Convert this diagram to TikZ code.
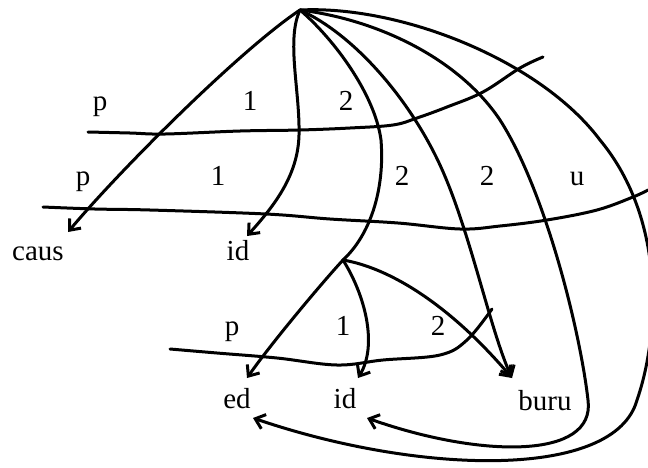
\documentclass[tikz,border=0pt]{standalone}
\usepackage{fontspec}
\setmainfont{Liberation Serif}
\usetikzlibrary{arrows.meta}

\begin{document}
\begin{tikzpicture}[x=1pt, y=-1pt, >={Straight Barb[length=9pt,width=15pt]},
  line width=3pt, line cap=round, line join=round,
  font=\fontsize{29}{31}\selectfont,
  lab/.style={anchor=base, inner sep=0pt}]
  \useasboundingbox (0,0) rectangle (648,467);

  % --- nodos ---
  \coordinate (root) at (300,10);
  \coordinate (split) at (343,260);

  \node[lab] (caus) at (38,260) {caus};
  \node[lab] (idA) at (238,260) {id};
  \node[lab] (ed) at (237,408) {ed};
  \node[lab] (idB) at (345,408) {id};
  \node[lab] (buru) at (545,410) {buru};

  % --- etiquetas de los estratos ---
  \foreach \t/\x [count=\i] in {p/100,1/250,2/346}
    \node[lab] (rA\i) at (\x,110) {\t};
  \foreach \t/\x [count=\i] in {p/83,1/218,2/402,2/487,u/577}
    \node[lab] (rB\i) at (\x,185) {\t};
  \foreach \t/\x [count=\i] in {p/232,1/343,2/438}
    \node[lab] (rC\i) at (\x,335) {\t};

  % --- lineas de estrato ---
  \draw plot[smooth, tension=0.6] coordinates {(88,132) (130,133) (165,134)
    (240,131) (300,130) (350,128) (393,125) (417,118) (447,107) (483,92)
    (520,68) (543,57)};
  \draw plot[smooth, tension=0.6] coordinates {(43,207) (95,209) (150,210)
    (266,214) (330,219) (398,223) (460,229) (500,226) (547,220) (597,210)
    (633,197) (648,190)};
  \draw plot[smooth, tension=0.6] coordinates {(170,349) (217,353) (277,358)
    (337,365) (383,360) (440,355) (467,340) (492,309)};

  % --- arcos desde la raiz ---
  \draw[->] (root) .. controls (240,50) and (120,170) .. ([shift={(30,-28)}]caus.base);
  \draw[->] (root) .. controls (286,40) and (300,90) .. (299,135)
    .. controls (298,175) and (275,205) .. ([shift={(9,-24)}]idA.base);
  \draw (root) .. controls (335,40) and (375,95) .. (381,140)
    .. controls (385,190) and (370,235) .. (split);
  \draw[->] (root) .. controls (355,35) and (410,100) .. (440,165)
    .. controls (470,230) and (490,330) .. ([shift={(-33,-32)}]buru.base);
  \draw[->] (root) .. controls (380,20) and (460,60) .. (500,120)
    .. controls (545,190) and (580,330) .. (588,400)
    .. controls (596,460) and (480,458) .. ([shift={(22,10)}]idB.base);
  \draw[->] (root) .. controls (400,5) and (540,60) .. (600,140)
    .. controls (668,222) and (658,340) .. (637,400)
    .. controls (615,480) and (420,475) .. ([shift={(16,10)}]ed.base);

  % --- arcos del nodo inferior ---
  \draw[->] (split) .. controls (320,285) and (270,345) .. ([shift={(10,-30)}]ed.base);
  \draw[->] (split) .. controls (365,295) and (378,345) .. ([shift={(13,-30)}]idB.base);
  \draw[->] (split) .. controls (390,268) and (450,305) .. ([shift={(-33,-32)}]buru.base);
\end{tikzpicture}
\end{document}
